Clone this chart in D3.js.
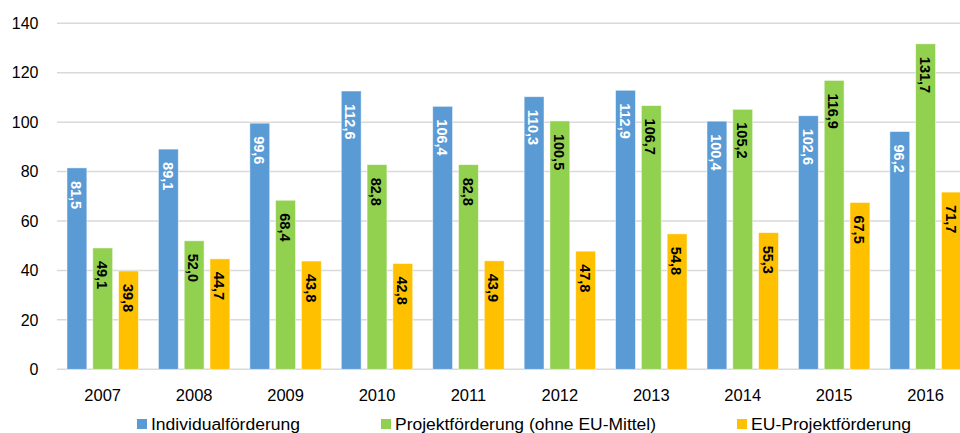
<!DOCTYPE html>
<html><head><meta charset="utf-8">
<script src="https://cdn.jsdelivr.net/npm/d3@7"></script>
<style>body{margin:0;background:#fff;overflow:hidden}svg{display:block}</style>
</head><body><svg id="c" width="960" height="433"></svg>
<script>
const years = ["2007","2008","2009","2010","2011","2012","2013","2014","2015","2016"];
const individual = [81.5, 89.1, 99.6, 112.6, 106.4, 110.3, 112.9, 100.4, 102.6, 96.2];
const projekt = [49.1, 52.0, 68.4, 82.8, 82.8, 100.5, 106.7, 105.2, 116.9, 131.7];
const euProjekt = [39.8, 44.7, 43.8, 42.8, 43.9, 47.8, 54.8, 55.3, 67.5, 71.7];
const seriesNames = ["Individualförderung", "Projektförderung (ohne EU-Mittel)", "EU-Projektförderung"];
const yTicks = [0, 20, 40, 60, 80, 100, 120, 140];

const colors = ["#5B9BD5", "#92D050", "#FFC000"];
const labelColors = ["#ffffff", "#000000", "#000000"];
const series = [individual, projekt, euProjekt];
const font = "'Liberation Sans', Arial, sans-serif";

const svg = d3.select("#c");
const x = d3.scaleBand().domain(years).range([57, 971.3]).paddingInner(0).paddingOuter(0);
const y = d3.scaleLinear().domain([0, 140]).range([369.3, 23.3]);
const inner = d3.scaleBand().domain([0,1,2]).range([10, x.bandwidth() - 10]).paddingInner(0.23).paddingOuter(0);

// gridlines
svg.append("g").selectAll("line").data(yTicks).join("line")
  .attr("x1", 57).attr("x2", 960)
  .attr("y1", d => y(d)).attr("y2", d => y(d))
  .attr("stroke", "#d9d9d9").attr("stroke-width", 1.5);

// y labels
svg.append("g").selectAll("text").data(yTicks).join("text")
  .attr("x", 38.5).attr("y", d => y(d)).attr("dy", "0.36em")
  .attr("text-anchor", "end").attr("font-family", font).attr("font-size", 16).attr("fill", "#000")
  .text(d => d);

// x labels
svg.append("g").selectAll("text").data(years).join("text")
  .attr("x", d => x(d) + x.bandwidth()/2).attr("y", 401)
  .attr("text-anchor", "middle").attr("font-family", font).attr("font-size", 16.5).attr("fill", "#000")
  .text(d => d);

// bars
series.forEach((vals, si) => {
  const g = svg.append("g");
  g.selectAll("rect").data(vals).join("rect")
    .attr("x", (d, i) => x(years[i]) + inner(si))
    .attr("width", inner.bandwidth())
    .attr("y", d => y(d))
    .attr("height", d => y(0) - y(d))
    .attr("fill", colors[si])
    .attr("stroke", "#ffffff").attr("stroke-opacity", 0.6).attr("stroke-width", 0.8);
  g.selectAll("text").data(vals).join("text")
    .attr("transform", (d, i) => `translate(${x(years[i]) + inner(si) + inner.bandwidth()/2},${y(d) + 13}) rotate(90)`)
    .attr("dy", "0.4em")
    .attr("text-anchor", "start")
    .attr("font-family", font).attr("font-size", 14.5).attr("font-weight", "bold")
    .attr("fill", labelColors[si])
    .text(d => d3.format(".1f")(d).replace(".", ","));
});

// legend
const legX = [137, 381, 737];
const legW = [149, 261, 160];
const lg = svg.append("g");
seriesNames.forEach((n, i) => {
  lg.append("rect").attr("x", legX[i]).attr("y", 419).attr("width", 10).attr("height", 10).attr("fill", colors[i]);
  lg.append("text").attr("x", legX[i] + 14).attr("y", 430)
    .attr("font-family", font).attr("font-size", 16).attr("fill", "#000")
    .attr("textLength", legW[i]).attr("lengthAdjust", "spacingAndGlyphs")
    .text(n);
});
</script></body></html>
